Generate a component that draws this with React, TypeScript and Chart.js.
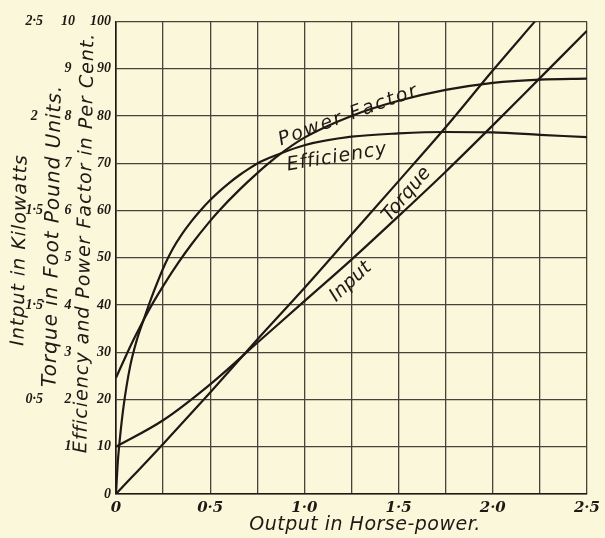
import React, { useEffect, useRef } from 'react';
import { Chart, registerables } from 'chart.js';

Chart.register(...registerables);

// ---------- data ----------
const outputTickValues = [0, 0.5, 1.0, 1.5, 2.0, 2.5];
const outputTickLabels = ['0', '0·5', '1·0', '1·5', '2·0', '2·5'];

const percentTickValues = [0, 10, 20, 30, 40, 50, 60, 70, 80, 90, 100];
const percentTickLabels = ['0', '10', '20', '30', '40', '50', '60', '70', '80', '90', '100'];

const torqueTickValues = [0, 1, 2, 3, 4, 5, 6, 7, 8, 9, 10];
const torqueTickLabels = ['', '1', '2', '3', '4', '5', '6', '7', '8', '9', '10'];

const inputTickValues = [0, 0.5, 1.0, 1.5, 2.0, 2.5];
const inputTickLabels = ['', '0·5', '1·5', '1·5', '2', '2·5'];

// Power factor (per cent) vs output (h.p.)
const pfOutput = [0, 0.05, 0.1, 0.15, 0.2, 0.25, 0.33, 0.4, 0.5, 0.546, 0.656, 0.75, 0.814, 0.857, 1.0, 1.25, 1.5, 1.75, 2.0, 2.25, 2.5];
const pfValues = [24.6, 29.0, 33.2, 37.1, 40.7, 44.0, 48.9, 52.8, 57.8, 59.9, 64.4, 67.9, 70.1, 71.5, 75.4, 80.0, 83.2, 85.5, 87.0, 87.7, 87.9];

// Efficiency (per cent) vs output (h.p.)
const effOutput = [0, 0.01, 0.02, 0.04, 0.075, 0.11, 0.146, 0.185, 0.22, 0.26, 0.3, 0.35, 0.4, 0.446, 0.5, 0.55, 0.6, 0.656, 0.7, 0.752, 0.857, 1.0, 1.25, 1.5, 1.75, 2.0, 2.25, 2.5];
const effValues = [0, 7, 11.5, 18.5, 27, 32.5, 36.8, 41.2, 44.8, 48.6, 51.8, 55.0, 57.7, 59.9, 62.2, 64.1, 65.8, 67.5, 68.7, 70.0, 71.8, 73.8, 75.6, 76.3, 76.6, 76.5, 76.0, 75.5];

// Torque (foot-pound units) vs output (h.p.)
const torqueOutput = [0, 0.25, 0.5, 0.75, 1.0, 1.25, 1.5, 1.75, 2.0, 2.224];
const torqueValues = [0, 1.06, 2.15, 3.27, 4.36, 5.49, 6.62, 7.76, 8.96, 10.0];

// Input (kilowatts) vs output (h.p.)
const inputOutput = [0, 0.25, 0.5, 0.75, 1.0, 1.25, 1.5, 1.75, 2.0, 2.25, 2.5];
const inputValues = [0.25, 0.39, 0.58, 0.80, 1.02, 1.24, 1.47, 1.705, 1.95, 2.2, 2.45];

// ---------- styles ----------
const BG = '#FBF7DA';
const INK = '#1d1915';
const GRID = '#48423b';

const pairs = (xs: number[], ys: number[]) => xs.map((x, i) => ({ x, y: ys[i] }));
const lookup = (vals: number[], labels: string[]) => (v: number | string) => {
  const n = Number(v);
  const i = vals.findIndex((t) => Math.abs(t - n) < 1e-6);
  return i >= 0 ? labels[i] : '';
};

const curveLabels = [
  { text: 'Power Factor', x: 1.244, y: 79.1, angle: -20, spacing: '2px', baseline: 'alphabetic' },
  { text: 'Efficiency', x: 1.178, y: 70.2, angle: -9.3, spacing: '1px', baseline: 'alphabetic' },
  { text: 'Torque', x: 1.543, y: 63.4, angle: -50, spacing: '0px', baseline: 'middle' },
  { text: 'Input', x: 1.246, y: 44.9, angle: -43, spacing: '0px', baseline: 'middle' },
];

const axisTitles = [
  { text: 'Output in Horse-power.', px: 365, py: 525, angle: 0, size: 19, spacing: '0.5px' },
  { text: 'Intput in Kilowatts', px: 20, py: 250, angle: -89, size: 19, spacing: '1px' },
  { text: 'Torque in Foot Pound Units.', px: 53, py: 236, angle: -89, size: 20, spacing: '1px' },
  { text: 'Efficiency and Power Factor in Per Cent.', px: 85, py: 243, angle: -89, size: 19, spacing: '1px' },
];

const textPlugin = {
  id: 'scanText',
  beforeDraw(chart: any) {
    const ctx = chart.ctx;
    ctx.save();
    ctx.fillStyle = BG;
    ctx.fillRect(0, 0, chart.width, chart.height);
    ctx.restore();
  },
  afterDraw(chart: any) {
    const ctx = chart.ctx;
    const xs = chart.scales.x;
    const ys = chart.scales.y;
    const put = (text: string, px: number, py: number, angle: number, font: string, spacing: string, baseline: string) => {
      ctx.save();
      ctx.translate(px, py);
      ctx.rotate((angle * Math.PI) / 180);
      ctx.font = font;
      ctx.fillStyle = INK;
      ctx.textAlign = 'center';
      ctx.textBaseline = baseline;
      try { (ctx as any).letterSpacing = spacing; } catch (e) { /* ignore */ }
      ctx.fillText(text, 0, 0);
      ctx.restore();
    };
    curveLabels.forEach((l) => {
      put(l.text, xs.getPixelForValue(l.x), ys.getPixelForValue(l.y), l.angle, 'italic 19px "DejaVu Sans"', l.spacing, l.baseline);
    });
    axisTitles.forEach((t) => {
      put(t.text, t.px, t.py, t.angle, `italic ${t.size}px "DejaVu Sans"`, t.spacing, 'middle');
    });
  },
};

const yTickFont = { family: 'Liberation Serif', size: 14, style: 'italic' as const, weight: 'bold' as const };

export default function App() {
  const ref = useRef<HTMLCanvasElement | null>(null);

  useEffect(() => {
    document.body.style.margin = '0';
    document.body.style.background = BG;
    const canvas = ref.current;
    if (!canvas) return;
    const line = (data: { x: number; y: number }[], axis: string) => ({
      data,
      yAxisID: axis,
      borderColor: INK,
      borderWidth: 2.2,
      pointRadius: 0,
      fill: false,
      cubicInterpolationMode: 'monotone' as const,
    });
    const chart = new Chart(canvas, {
      type: 'line',
      data: {
        datasets: [
          { label: 'Power Factor', ...line(pairs(pfOutput, pfValues), 'y') },
          { label: 'Efficiency', ...line(pairs(effOutput, effValues), 'y') },
          { label: 'Torque', ...line(pairs(torqueOutput, torqueValues), 'torque') },
          { label: 'Input', ...line(pairs(inputOutput, inputValues), 'input') },
        ],
      },
      options: {
        animation: false,
        responsive: false,
        maintainAspectRatio: false,
        devicePixelRatio: 1,
        layout: { padding: { top: 17.5, right: 15.5, left: 0, bottom: 0 } },
        plugins: { legend: { display: false }, tooltip: { enabled: false } },
        scales: {
          x: {
            type: 'linear',
            min: 0,
            max: 2.5,
            afterFit: (s: any) => { s.height = 44; },
            ticks: {
              stepSize: 0.25,
              autoSkip: false,
              maxRotation: 0,
              padding: 5,
              color: INK,
              font: { family: 'DejaVu Serif', size: 15, style: 'italic', weight: 'bold' },
              callback: lookup(outputTickValues, outputTickLabels),
            },
            grid: { color: GRID, lineWidth: 1.3, drawTicks: false },
            border: { color: INK, width: 1.6 },
          },
          y: {
            type: 'linear',
            position: 'left',
            weight: 0,
            min: 0,
            max: 100,
            afterFit: (s: any) => { s.width = 30; },
            ticks: {
              stepSize: 10,
              autoSkip: false,
              padding: 5,
              color: INK,
              font: yTickFont,
              callback: lookup(percentTickValues, percentTickLabels),
            },
            grid: { color: GRID, lineWidth: 1.3, drawTicks: false },
            border: { color: INK, width: 1.6 },
          },
          torque: {
            type: 'linear',
            position: 'left',
            weight: 1,
            min: 0,
            max: 10,
            afterFit: (s: any) => { s.width = 30; },
            ticks: {
              stepSize: 1,
              autoSkip: false,
              padding: 11,
              crossAlign: 'center',
              color: INK,
              font: yTickFont,
              callback: lookup(torqueTickValues, torqueTickLabels),
            },
            grid: { display: false, drawTicks: false },
            border: { display: false },
          },
          input: {
            type: 'linear',
            position: 'left',
            weight: 2,
            min: 0,
            max: 2.5,
            afterFit: (s: any) => { s.width = 56; },
            ticks: {
              stepSize: 0.5,
              autoSkip: false,
              padding: 13,
              crossAlign: 'center',
              color: INK,
              font: yTickFont,
              callback: lookup(inputTickValues, inputTickLabels),
            },
            grid: { display: false, drawTicks: false },
            border: { display: false },
          },
        },
      },
      plugins: [textPlugin],
    } as any);
    return () => chart.destroy();
  }, []);

  return (
    <div style={{ position: 'absolute', left: 0, top: 0, width: 605, height: 538, background: BG }}>
      <canvas ref={ref} width={605} height={538} style={{ width: 605, height: 538, display: 'block' }} />
    </div>
  );
}
